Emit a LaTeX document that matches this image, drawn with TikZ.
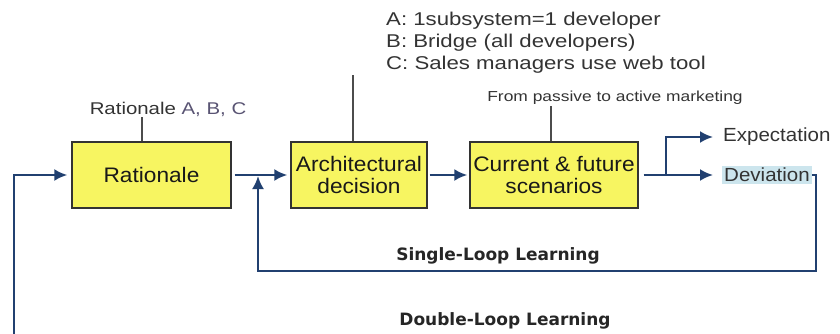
\documentclass[tikz,border=0pt]{standalone}
\usepackage{fontspec}
\setmainfont[FakeStretch=1.08]{Liberation Sans}
\newfontfamily\widefont[FakeStretch=1.2]{Liberation Sans}
\newfontfamily\loopfont{DejaVu Sans}
\usetikzlibrary{arrows.meta,positioning}
\definecolor{dlbox}{rgb}{0.97,0.96,0.38}
\definecolor{dlline}{rgb}{0.13,0.25,0.44}
\definecolor{dltext}{rgb}{0.20,0.20,0.20}
\definecolor{dldev}{rgb}{0.80,0.90,0.93}
\definecolor{dlabc}{rgb}{0.35,0.33,0.45}
\tikzstyle{dlbox}=[rectangle, draw=black!80, line width=1.4pt, fill=dlbox, minimum height=66pt, align=center, font=\fontsize{21}{22}\selectfont, text=black!90]
\tikzstyle{dlnote}=[inner sep=1pt, text=dltext, align=left]
\tikzstyle{dlstem}=[draw=black!70, line width=1.8pt]
\tikzstyle{dlflow}=[draw=dlline, line width=2.3pt]
\tikzstyle{dlloop}=[font=\loopfont\bfseries\fontsize{17}{20}\selectfont, text=black!85]
\newcommand{\dlbox}[4]{
	\node[dlbox, minimum width=#4] (#1) at (#2) {#3};}

\begin{document}
\begin{tikzpicture}[>={Latex[length=13pt,width=12pt]}, x=1pt, y=-1pt]
\useasboundingbox (0,0) rectangle (840,334);
\dlbox{rationale}{151.5,175}{Rationale}{159pt}
\dlbox{arch}{359,175}{Architectural\\decision}{136pt}
\dlbox{scen}{554,175}{Current \& future\\scenarios}{168pt}
\node[dlnote, font=\widefont\fontsize{17}{18}\selectfont] (ratnote) at (168,109) {Rationale \textcolor{dlabc}{A, B, C}};
\node[dlnote, anchor=west, font=\widefont\fontsize{18.5}{22}\selectfont] (abc) at (385,43) {A: 1subsystem=1 developer\\B: Bridge (all developers)\\C: Sales managers use web tool};
\node[dlnote, font=\widefont\fontsize{14.5}{16}\selectfont] (passive) at (615,98) {From passive to active marketing};
\node[dlnote, anchor=west, font=\fontsize{19}{20}\selectfont] (expect) at (722,137) {Expectation};
\node[dlnote, anchor=west, fill=dldev, inner sep=2pt, font=\fontsize{19}{20}\selectfont] (dev) at (722,175) {Deviation};
\node[dlloop] (single) at (498,256) {Single-Loop Learning};
\node[dlloop] (double) at (505,321) {Double-Loop Learning};
\coordinate (fork) at (666,175);
\coordinate (slcorner) at (816,271);
\coordinate (slmerge) at (258,175);
\coordinate (dlstart) at (14,334);
% annotation stems
\draw[dlstem] ([xshift=-9.5pt]rationale.north) -- ([xshift=-9.5pt]rationale.north |- ratnote.south);
\draw[dlstem] ([xshift=-6pt]arch.north) -- ([xshift=-6pt]arch.north |- abc.south);
\draw[dlstem] ([xshift=-3pt]scen.north) -- ([xshift=-3pt]scen.north |- passive.south);
% flow
\draw[dlflow, ->, shorten <=3pt, shorten >=3pt] (rationale) -- (arch);
\draw[dlflow, ->, shorten <=2pt, shorten >=2pt] (arch) -- (scen);
\draw[dlflow, ->, shorten <=5pt, shorten >=9pt] (scen.east) -- (dev.west);
\draw[dlflow, ->, shorten >=9pt] (fork) |- (expect.west);
% loops
\draw[dlflow, ->, shorten >=1pt] (dev.east) -| (slcorner) -| (slmerge);
\draw[dlflow, ->, shorten >=4pt] (dlstart) |- (rationale.west);
\end{tikzpicture}
\end{document}
